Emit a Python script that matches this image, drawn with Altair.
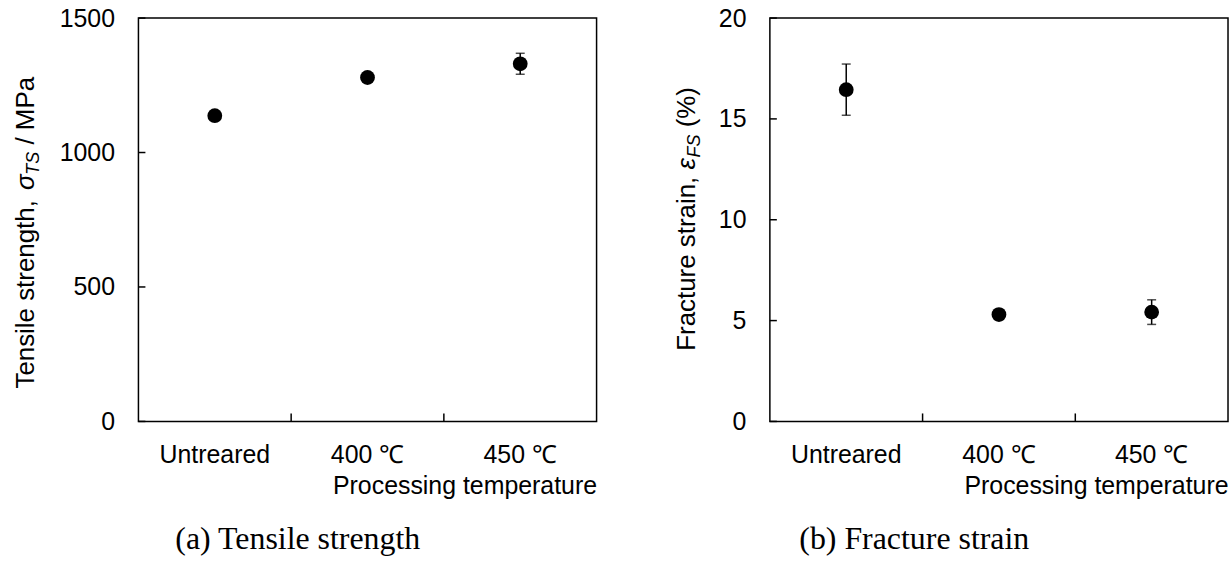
import altair as alt
import pandas as pd

# ---------------- data ----------------
categories = ["Untreared", "400 ℃", "450 ℃"]
ts_mean = [1137, 1279, 1330]
ts_err = [15, 18, 39]
fs_mean = [16.45, 5.30, 5.42]
fs_err = [1.27, 0.25, 0.61]
ts_ticks = [0, 500, 1000, 1500]
fs_ticks = [0, 5, 10, 15, 20]

FONT = "Liberation Sans"
SERIF = "Liberation Serif"
W, H = 460, 405
FS = 25          # tick labels / axis title
YT = 26          # y title font
SUB = 18         # subscript font

# Arial-metric widths (em) for building the multi-style y titles
AW = {" ": .278, "T": .611, "e": .556, "n": .556, "s": .5, "i": .222, "l": .222,
      "t": .278, "r": .333, "g": .556, "h": .556, ",": .278, "/": .278, "M": .833,
      "P": .667, "a": .556, "F": .611, "c": .5, "u": .556, "(": .333, "%": .889,
      ")": .333, "S": .667, "σ": .59, "ε": .46}


def tw(s, size):
    return sum(AW.get(c, .556) for c in s) * size


def title_layers(parts, bx, y0):
    """parts: list of (text, size, style, shift); leading spaces become offsets"""
    layers = []
    y = y0
    for text, size, style, shift in parts:
        stripped = text.lstrip(" ")
        lead = tw(text[: len(text) - len(stripped)], size)
        layers.append(
            alt.Chart(pd.DataFrame({"t": [stripped]})).mark_text(
                angle=270, align="left", baseline="alphabetic", font=FONT,
                fontSize=size, fontStyle=style, color="black"
            ).encode(text="t:N", x=alt.value(bx + shift), y=alt.value(y - lead))
        )
        y -= tw(text, size)
    return layers


def panel(mean, err, ticks, domain, parts, bx, y0, caption, cap_dx):
    df = pd.DataFrame({
        "cat": categories,
        "val": mean,
        "lo": [m - e for m, e in zip(mean, err)],
        "hi": [m + e for m, e in zip(mean, err)],
    })
    xscale = alt.Scale(domain=categories, paddingInner=0, paddingOuter=0)
    xaxis = alt.Axis(ticks=False, domain=False, grid=False, labelAngle=0,
                     labelFont=FONT, labelFontSize=FS, labelColor="black",
                     labelPadding=21, title="Processing temperature",
                     titleAnchor="end", titleFont=FONT, titleFontSize=FS,
                     titleFontWeight="normal", titleColor="black", titlePadding=6)
    yscale = alt.Scale(domain=domain, nice=False, zero=True)
    yaxis = alt.Axis(values=ticks, format="d", ticks=False, domain=False, grid=False,
                     labelFont=FONT, labelFontSize=FS, labelColor="black",
                     labelPadding=24, title=None)

    X = lambda f="cat:N", **kw: alt.X(f, scale=xscale, axis=xaxis, **kw)
    Y = lambda f: alt.Y(f, scale=yscale, axis=yaxis)

    base = alt.Chart(df)
    bars = base.mark_rule(color="black", strokeWidth=1.5).encode(x=X(), y=Y("lo:Q"), y2="hi:Q")
    cap_lo = base.mark_tick(orient="horizontal", size=9, thickness=1.5, color="black").encode(x=X(), y=Y("lo:Q"))
    cap_hi = base.mark_tick(orient="horizontal", size=9, thickness=1.5, color="black").encode(x=X(), y=Y("hi:Q"))
    pts = base.mark_circle(size=220, color="black", opacity=1).encode(x=X(), y=Y("val:Q"))

    xt = alt.Chart(pd.DataFrame({"cat": categories[1:]})).mark_rule(
        color="black", strokeWidth=1.5).encode(
        x=X("cat:N", bandPosition=0), y=alt.value(H), y2=alt.value(H - 8))
    yt = alt.Chart(pd.DataFrame({"t": ticks})).mark_rule(
        color="black", strokeWidth=1.5).encode(
        y=Y("t:Q"), x=alt.value(0), x2=alt.value(7))

    layers = [bars, cap_lo, cap_hi, pts, xt, yt] + title_layers(parts, bx, y0)
    return alt.layer(*layers).properties(
        width=W, height=H,
        title=alt.TitleParams(caption, orient="bottom", anchor="middle", frame="group",
                              dx=cap_dx, offset=26, font=SERIF, fontSize=32,
                              fontWeight="normal", color="black"),
    )


left = panel(ts_mean, ts_err, ts_ticks, [0, 1500],
             [("Tensile strength, ", YT, "normal", 0),
              ("σ", YT, "italic", 0),
              ("TS", SUB, "italic", 5),
              (" / MPa", YT, "normal", 0)],
             -105, 372, "(a) Tensile strength", -70)

right = panel(fs_mean, fs_err, fs_ticks, [0, 20],
              [("Fracture strain, ", YT, "normal", 0),
               ("ε", YT, "italic", 0),
               ("FS", SUB, "italic", 5),
               (" (%)", YT, "normal", 0)],
              -75, 334, "(b) Fracture strain", -85)

chart = alt.hconcat(left, right, spacing=76).properties(
    padding={"left": 12, "top": 4, "right": 2, "bottom": 2},
    background="white",
).configure_view(stroke="black", strokeWidth=1.5)

chart.save("out.html", embed_options={"renderer": "svg", "actions": False})
